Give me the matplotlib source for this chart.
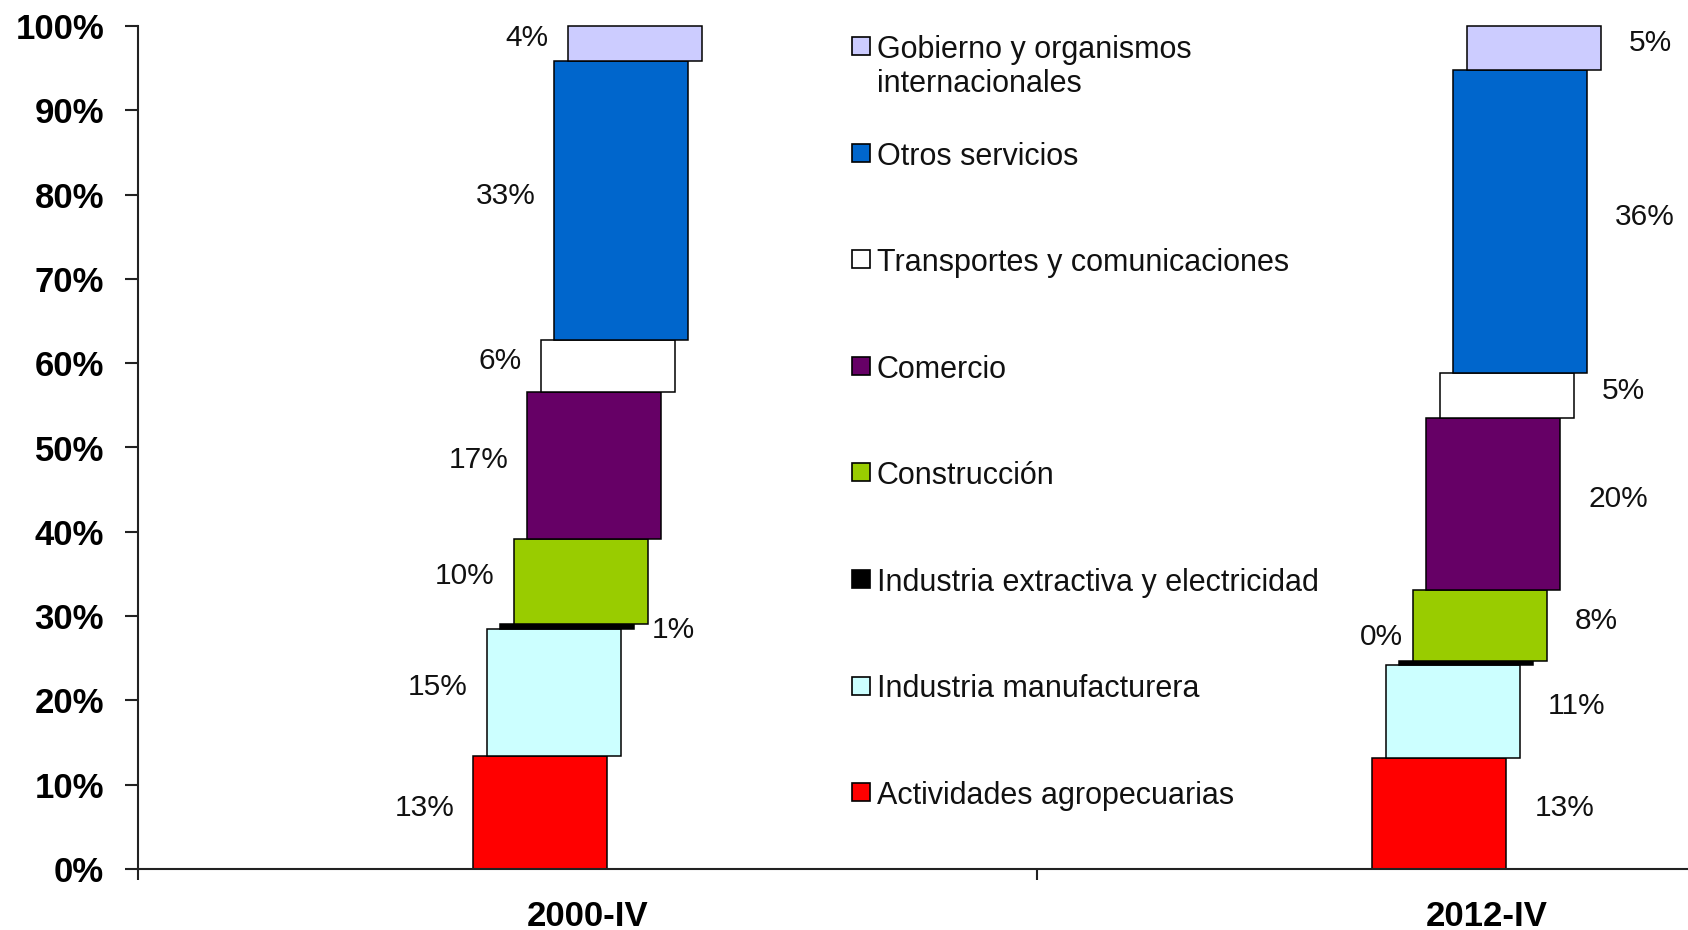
import matplotlib
matplotlib.use('Agg')
import matplotlib.pyplot as plt
import numpy as np
from matplotlib.patches import Rectangle

plt.rcParams['font.family'] = ['Liberation Sans', 'DejaVu Sans']

# ---------------- data ----------------
categories = ['2000-IV', '2012-IV']
sectors = ['Actividades agropecuarias',
           'Industria manufacturera',
           'Industria extractiva y electricidad',
           'Construcción',
           'Comercio',
           'Transportes y comunicaciones',
           'Otros servicios',
           'Gobierno y organismos\ninternacionales']
share_2000 = [13.4, 15.1, 0.6, 10.1, 17.4, 6.1, 33.2, 4.1]
share_2012 = [13.2, 11.0, 0.45, 8.4, 20.4, 5.4, 35.9, 5.25]
colors = ['#FF0000', '#CCFFFF', '#000000', '#99CC00',
          '#660066', '#FFFFFF', '#0066CC', '#CCCCFF']

# ---------------- layout ----------------
W, H = 1688, 930
fig = plt.figure(figsize=(W / 100, H / 100), dpi=100)
ax = fig.add_axes([138 / W, 1 - 869 / H, 1798 / W, (869 - 26) / H])

xpos = np.arange(len(categories))
step = 0.015
width = 0.149
values = np.array([share_2000, share_2012])
bottoms = np.cumsum(values, axis=1) - values
n = len(sectors)

for i in range(n):
    offs = (i - (n - 1) / 2) * step
    ax.bar(xpos + offs, values[:, i], width, bottom=bottoms[:, i],
           color=colors[i], edgecolor='black', linewidth=1.1,
           zorder=2 + i, clip_on=False)

# data labels
cat_side = ['left', 'right']
for j in range(len(categories)):
    for i in range(n):
        v = values[j, i]
        offs = (i - (n - 1) / 2) * step
        yc = bottoms[j, i] + v / 2
        side = cat_side[j]
        tiny = v < 1
        if tiny:
            side = 'right' if side == 'left' else 'left'
        if side == 'left':
            xy = (xpos[j] + offs - width / 2, yc)
            xt = (4, 26) if tiny else (-19, 5)
            ha = 'right'
        else:
            xy = (xpos[j] + offs + width / 2, yc)
            xt = (18, -4) if tiny else (28, 5)
            ha = 'left'
        ax.annotate(f"{v:.0f}%", xy=xy, xytext=xt, textcoords='offset pixels',
                    ha=ha, va='center', fontsize=21.5, color='#111111',
                    zorder=20, annotation_clip=False)

# axes styling
ax.set_xlim(-0.5, 1.5)
ax.set_ylim(0, 100)
ax.spines['top'].set_visible(False)
ax.spines['right'].set_visible(False)
for s in ('left', 'bottom'):
    ax.spines[s].set_linewidth(1.5)
    ax.spines[s].set_color('#222222')

yt = list(range(0, 101, 10))
ax.set_yticks(yt)
ax.set_yticklabels([f"{t}%" for t in yt], fontweight='bold', fontsize=25)
ax.tick_params(axis='y', direction='out', length=9.4, width=1.5,
               color='#222222', pad=15)

ax.set_xticks(xpos)
ax.set_xticklabels(categories, fontweight='bold', fontsize=25)
ax.set_xticks([-0.5, 0.5, 1.5], minor=True)
ax.tick_params(axis='x', which='major', length=0, pad=22)
ax.tick_params(axis='x', which='minor', direction='out', length=8,
               width=1.5, color='#222222')

# legend (manual, Excel-like)
lfs = 22
em = lfs * 100 / 72
for k in range(n):
    s = n - 1 - k
    yc = 46.5 + k * 106.5
    fig.patches.append(Rectangle((852 / W, 1 - (yc + 9) / H), 18 / W, 18 / H,
                                 transform=fig.transFigure,
                                 facecolor=colors[s], edgecolor='black',
                                 linewidth=1.2))
    fig.text(877 / W, 1 - (yc - 0.372 * em) / H, sectors[s],
             ha='left', va='top', fontsize=lfs, color='#111111',
             linespacing=1.15)

fig.savefig('out.png', dpi=100)
